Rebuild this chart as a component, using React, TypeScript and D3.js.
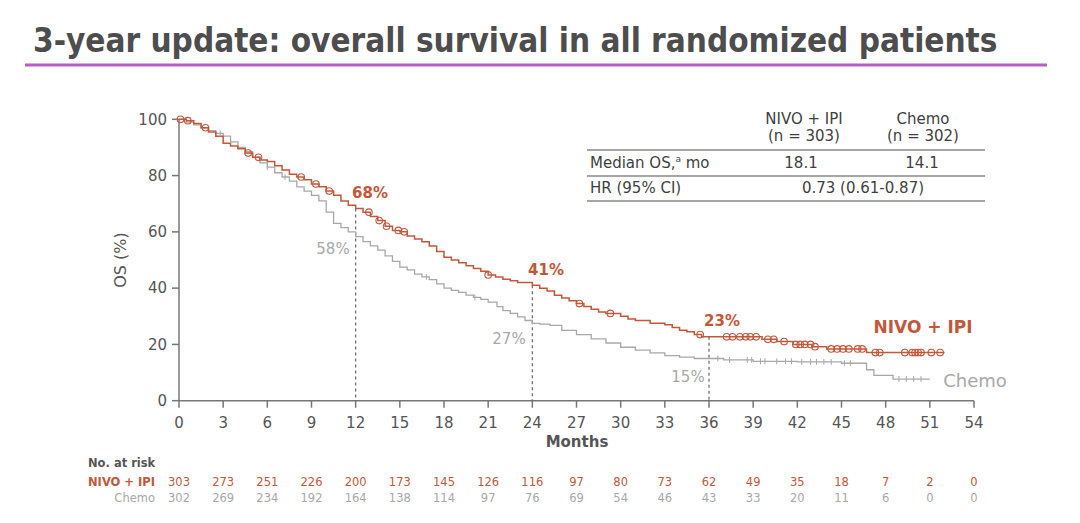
import React from "react";
import * as d3 from "d3";

const monthTicks = [0, 3, 6, 9, 12, 15, 18, 21, 24, 27, 30, 33, 36, 39, 42, 45, 48, 51, 54];
const osTicks = [0, 20, 40, 60, 80, 100];

const nivoRisk = [303, 273, 251, 226, 200, 173, 145, 126, 116, 97, 80, 73, 62, 49, 35, 18, 7, 2, 0];
const chemoRisk = [302, 269, 234, 192, 164, 138, 114, 97, 76, 69, 54, 46, 43, 33, 20, 11, 6, 0, 0];

// Kaplan-Meier step points [month, OS%]
const nivoCurve: [number, number][] = [
  [0, 100], [0.5, 99.5], [1, 98.5], [1.5, 97], [2, 95.5], [2.5, 94], [3, 91.5], [3.5, 90.5], [4, 89.5],
  [4.5, 88], [5, 86.5], [5.5, 85.5], [6, 85], [6.5, 83.5], [7, 82], [7.5, 80.5], [8, 79.5], [8.5, 78.5],
  [9, 77], [9.5, 76], [10, 74.5], [10.5, 73], [11, 71], [11.5, 69.5], [12, 68.3], [12.5, 67], [13, 65.5],
  [13.5, 64], [14, 62], [14.5, 60.5], [15, 60], [15.5, 58.5], [16, 57.5], [16.5, 56.5], [17, 55], [17.5, 53],
  [18, 51], [18.5, 50], [19, 49], [19.5, 48], [20, 47], [20.5, 46], [21, 44.7], [21.5, 44], [22, 43.2],
  [22.5, 42.6], [23, 42], [24, 41], [24.5, 40], [25, 39], [25.5, 37.5], [26, 36.5], [26.5, 35.5], [27, 34.5],
  [27.5, 33.5], [28, 32.5], [28.5, 31.5], [29, 31], [30, 30], [30.5, 29], [31, 28.5], [32, 27.5], [33, 27],
  [33.5, 26], [34, 25], [34.5, 24.5], [35, 23.5], [35.5, 22.7], [39.6, 21.8], [40.6, 21], [41.7, 20],
  [43, 19.2], [44, 18.4], [46.7, 17.1], [52, 17.1]
];
const chemoCurve: [number, number][] = [
  [0, 100], [0.5, 99], [1, 98], [1.5, 97], [2, 96], [2.5, 95], [3, 94], [3.5, 92], [4, 90], [4.5, 88.5],
  [5, 86.5], [5.5, 84.5], [6, 83], [6.5, 81], [7, 79.5], [7.5, 78], [8, 76], [8.5, 74.5], [9, 73], [9.5, 71],
  [10, 67], [10.5, 63], [11, 61.5], [11.5, 60], [12, 58.3], [12.5, 56.5], [13, 55], [13.5, 53.5], [14, 51.5],
  [14.5, 49.5], [15, 47.5], [15.5, 46.5], [16, 45], [16.5, 44], [17, 43], [17.5, 41.5], [18, 40], [18.5, 39.2],
  [19, 38.5], [19.5, 37.5], [20, 36.7], [20.5, 36], [21, 35], [21.6, 33.4], [22, 32], [22.5, 31],
  [23, 29.8], [23.5, 28.5], [24, 27.5], [24.5, 27.2], [25.2, 26.8], [26, 25], [27, 23.5], [28, 22],
  [29, 20.5], [30, 19], [31, 18], [32, 17], [33, 16], [34, 15.5], [35, 15], [37, 14.5], [39, 14], [42, 13.8],
  [45, 13.3], [46.7, 11], [47.2, 9], [48.5, 7.7], [51, 7.7]
];

const nivoCensor = [0.1, 0.6, 1.8, 4.7, 5.4, 8.3, 9.3, 10.2, 12.9, 13.6, 14.1, 14.9, 15.3, 21, 27.2, 29.3,
  35.4, 37.2, 37.6, 38.1, 38.5, 38.8, 39.2, 40, 40.4, 41.1, 41.9, 42.2, 42.5, 42.9, 43.2, 44.3, 44.7, 45.1,
  45.5, 46.1, 46.4, 47.3, 47.6, 49.3, 49.8, 50.0, 50.2, 50.4, 51.1, 51.7];
const chemoCensor = [2.8, 6, 7.2, 16.8, 20.1, 36.6, 37.4, 38.6, 38.9, 39.5, 39.8, 40.6, 41.2, 41.6, 42.3,
  42.9, 43.3, 43.8, 44.3, 45.2, 45.6, 48.9, 49.4, 49.9, 50.4];

const milestones = [
  { m: 12, nivo: "68%", chemo: "58%" },
  { m: 24, nivo: "41%", chemo: "27%" },
  { m: 36, nivo: "23%", chemo: "15%" }
];

const ORANGE = "#c4573a";
const GREY = "#a8a8a8";
const AXIS = "#777";
const TEXT = "#555";
const TABLE = "#3f3f3f";
const FONT = "'DejaVu Sans', Verdana, sans-serif";

function stepValue(curve: [number, number][], t: number) {
  let v = curve[0][1];
  for (const [m, s] of curve) {
    if (m <= t) v = s;
    else break;
  }
  return v;
}

export default function App() {
  const x = d3.scaleLinear().domain([0, 54]).range([179, 974]);
  const y = d3.scaleLinear().domain([0, 100]).range([400.7, 119.3]);
  const line = d3.line<[number, number]>().x(d => x(d[0])).y(d => y(d[1])).curve(d3.curveStepAfter);

  return (
    <svg width={1080} height={523} style={{ position: "absolute", left: 0, top: 0, background: "#fff" }} fontFamily={FONT}>
      {/* Title */}
      <text x={33} y={52} fontSize={33} fontWeight="bold" fill="#4d4d4d" fontFamily="'DejaVu Sans Condensed', 'DejaVu Sans', sans-serif">
        3-year update: overall survival in all randomized patients
      </text>
      <line x1={25} x2={1047} y1={65} y2={65} stroke="#b460c4" strokeWidth={3} />

      {/* Axes */}
      <line x1={x(0)} x2={x(0)} y1={y(100)} y2={y(0)} stroke={AXIS} strokeWidth={1.5} />
      <line x1={x(0)} x2={x(54)} y1={y(0)} y2={y(0)} stroke={AXIS} strokeWidth={1.5} />
      {osTicks.map(t => (
        <g key={"y" + t}>
          <line x1={x(0) - 7} x2={x(0)} y1={y(t)} y2={y(t)} stroke={AXIS} strokeWidth={1.5} />
          <text x={x(0) - 12} y={y(t)} dy="0.35em" textAnchor="end" fontSize={15} fill={TEXT}>{t}</text>
        </g>
      ))}
      {monthTicks.map(t => (
        <g key={"x" + t}>
          <line x1={x(t)} x2={x(t)} y1={y(0)} y2={y(0) + 7} stroke={AXIS} strokeWidth={1.5} />
          <text x={x(t)} y={y(0) + 27} textAnchor="middle" fontSize={15} fill={TEXT}>{t}</text>
        </g>
      ))}
      <text x={577} y={447} textAnchor="middle" fontSize={15} fontWeight="bold" fill={TEXT}>Months</text>
      <text transform={`translate(126,${y(50)}) rotate(-90)`} textAnchor="middle" fontSize={16} fill={TEXT}>OS (%)</text>

      {/* Milestone dashed lines */}
      {milestones.map(d => (
        <line key={"d" + d.m} x1={x(d.m)} x2={x(d.m)} y1={y(stepValue(nivoCurve, d.m))} y2={y(0)}
          stroke="#666" strokeWidth={1.2} strokeDasharray="3,3" />
      ))}

      {/* Curves */}
      <path d={line(chemoCurve) || ""} fill="none" stroke={GREY} strokeWidth={1.3} />
      <path d={line(nivoCurve) || ""} fill="none" stroke={ORANGE} strokeWidth={1.5} />
      {chemoCensor.map((t, i) => (
        <line key={"cc" + i} x1={x(t)} x2={x(t)} y1={y(stepValue(chemoCurve, t)) - 3} y2={y(stepValue(chemoCurve, t)) + 3}
          stroke={GREY} strokeWidth={1} />
      ))}
      {nivoCensor.map((t, i) => (
        <circle key={"nc" + i} cx={x(t)} cy={y(stepValue(nivoCurve, t))} r={3.3} fill="none" stroke={ORANGE} strokeWidth={1.1} />
      ))}

      {/* Milestone labels */}
      <text x={370} y={198} textAnchor="middle" fontSize={15} fontWeight="bold" fill={ORANGE}>{milestones[0].nivo}</text>
      <text x={333} y={254} textAnchor="middle" fontSize={15} fill={GREY}>{milestones[0].chemo}</text>
      <text x={546} y={275} textAnchor="middle" fontSize={15} fontWeight="bold" fill={ORANGE}>{milestones[1].nivo}</text>
      <text x={509} y={344} textAnchor="middle" fontSize={15} fill={GREY}>{milestones[1].chemo}</text>
      <text x={722} y={326} textAnchor="middle" fontSize={15} fontWeight="bold" fill={ORANGE}>{milestones[2].nivo}</text>
      <text x={688} y={382} textAnchor="middle" fontSize={15} fill={GREY}>{milestones[2].chemo}</text>
      <text x={923} y={333} textAnchor="middle" fontSize={17} fontWeight="bold" fill={ORANGE}>NIVO + IPI</text>
      <text x={975} y={387} textAnchor="middle" fontSize={18} fill={GREY}>Chemo</text>

      {/* Summary table */}
      <text x={804} y={124} textAnchor="middle" fontSize={15} fill={TABLE}>NIVO + IPI</text>
      <text x={804} y={141} textAnchor="middle" fontSize={15} fill={TABLE}>(n = 303)</text>
      <text x={923} y={124} textAnchor="middle" fontSize={15} fill={TABLE}>Chemo</text>
      <text x={923} y={141} textAnchor="middle" fontSize={15} fill={TABLE}>(n = 302)</text>
      <line x1={587} x2={985} y1={150} y2={150} stroke="#888" strokeWidth={1.5} />
      <text x={590} y={168} fontSize={15} fill={TABLE}>Median OS,<tspan fontSize={9} dy={-6}>a</tspan><tspan dy={6}> mo</tspan></text>
      <text x={801} y={168} textAnchor="middle" fontSize={15} fill={TABLE}>18.1</text>
      <text x={922} y={168} textAnchor="middle" fontSize={15} fill={TABLE}>14.1</text>
      <line x1={587} x2={985} y1={176} y2={176} stroke="#888" strokeWidth={1.5} />
      <text x={590} y={193} fontSize={15} fill={TABLE}>HR (95% CI)</text>
      <text x={863} y={193} textAnchor="middle" fontSize={15} fill={TABLE}>0.73 (0.61-0.87)</text>
      <line x1={587} x2={985} y1={201} y2={201} stroke="#888" strokeWidth={1.5} />

      {/* Risk table */}
      <text x={88} y={467} fontSize={11.5} fontWeight="bold" fill="#555">No. at risk</text>
      <text x={155} y={486} textAnchor="end" fontSize={11.5} fontWeight="bold" fill={ORANGE}>NIVO + IPI</text>
      <text x={155} y={502} textAnchor="end" fontSize={11.5} fill={GREY}>Chemo</text>
      {monthTicks.map((t, i) => (
        <g key={"r" + t}>
          <text x={x(t)} y={486} textAnchor="middle" fontSize={11.5} fill={ORANGE}>{nivoRisk[i]}</text>
          <text x={x(t)} y={502} textAnchor="middle" fontSize={11.5} fill={GREY}>{chemoRisk[i]}</text>
        </g>
      ))}
    </svg>
  );
}
